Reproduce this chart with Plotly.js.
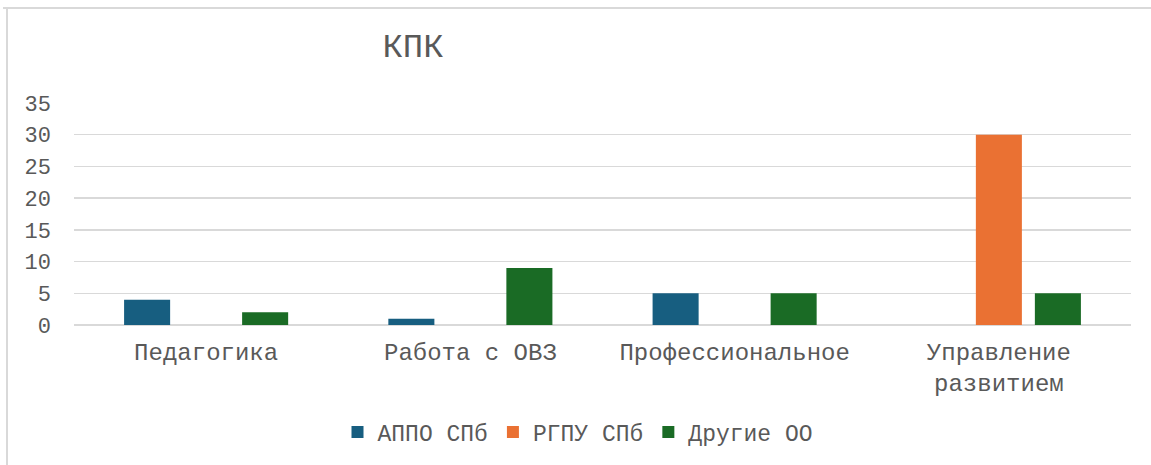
<!DOCTYPE html>
<html>
<head>
<meta charset="utf-8">
<script src="https://cdn.plot.ly/plotly-3.0.1.min.js"></script>
<style>
html,body{margin:0;padding:0;background:#fff;}
#chart{width:1151px;height:465px;}
</style>
</head>
<body>
<div id="chart"></div>
<script>
const categories = ["Педагогика", "Работа с ОВЗ", "Профессиональное", "Управление<br>развитием"];
const seriesNames = ["АППО СПб", "РГПУ СПб", "Другие ОО"];
const appo = [4, 1, 5, 0];
const rgpu = [0, 0, 0, 30];
const other = [2, 9, 5, 5];
const colors = ["#175E80", "#EA7133", "#1A6B25"];
const yTicks = [0, 5, 10, 15, 20, 25, 30, 35];

const font = "'Liberation Mono', 'Courier New', monospace";
const values = [appo, rgpu, other];
const traces = values.map((v, i) => ({
  type: "bar",
  name: seriesNames[i],
  x: categories,
  y: v,
  marker: {color: colors[i], line: {width: 0}},
  hoverinfo: "x+y+name"
}));

const L = 74, R = 1131, T = 103, B = 325;
const px = x => (x - L) / (R - L);
const py = y => (B - y) / (B - T);

const layout = {
  width: 1151, height: 465,
  margin: {l: L, r: 1151 - R, t: T, b: 465 - B, pad: 0},
  paper_bgcolor: "#fff", plot_bgcolor: "#fff",
  barmode: "group", bargap: 0.33, bargroupgap: 0.22,
  title: {text: "КПК", font: {family: font, size: 34, color: "#595959"},
          x: 413 / 1151, xanchor: "center", xref: "container",
          y: 1 - 45 / 465, yanchor: "middle", yref: "container"},
  xaxis: {type: "category", showgrid: false, zeroline: false, showline: false,
          ticks: "", ticklabelstandoff: 10,
          tickfont: {family: font, size: 24, color: "#595959"}, automargin: false},
  yaxis: {range: [0, 35], tickvals: yTicks, ticktext: yTicks.map(String), showline: false,
          gridcolor: "#d9d9d9", gridwidth: 1.5, zeroline: true, zerolinecolor: "#d9d9d9", zerolinewidth: 1.5,
          ticks: "", ticklabelstandoff: 22,
          tickfont: {family: font, size: 22, color: "#595959"}, automargin: false, fixedrange: true},
  showlegend: true,
  legend: {orientation: "h", x: px(578), xanchor: "center", y: py(432), yanchor: "middle",
           font: {family: font, size: 23, color: "#595959"}, itemwidth: 30, traceorder: "normal",
           bgcolor: "rgba(0,0,0,0)"},
  shapes: [
    {type: "line", xref: "paper", yref: "paper", x0: px(3), x1: px(1151), y0: py(8), y1: py(8),
     line: {color: "#d9d9d9", width: 2}},
    {type: "line", xref: "paper", yref: "paper", x0: px(7), x1: px(7), y0: py(8), y1: py(466),
     line: {color: "#d9d9d9", width: 2}}
  ]
};

Plotly.newPlot("chart", traces, layout, {displayModeBar: false, staticPlot: true});
</script>
</body>
</html>
